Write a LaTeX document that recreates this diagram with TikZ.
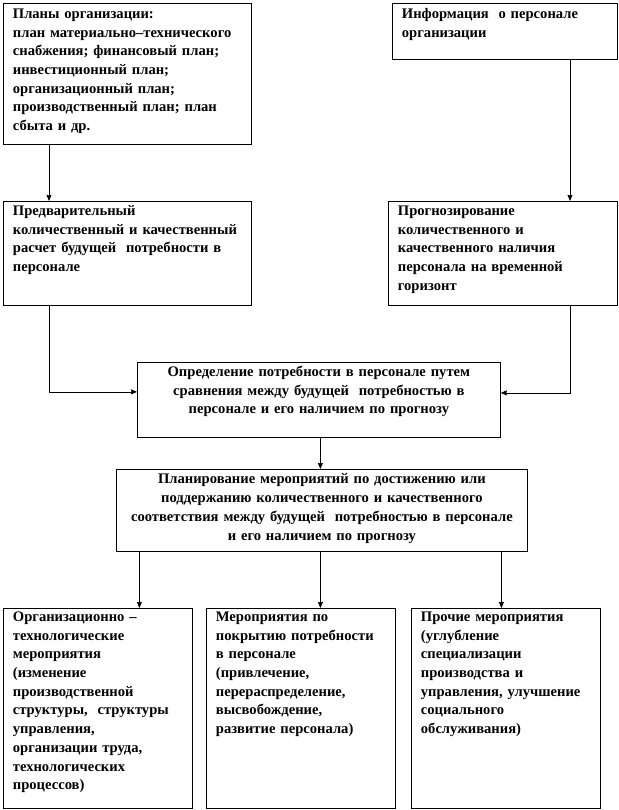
\documentclass[tikz,border=0pt]{standalone}
\usepackage{fontspec}
\setmainfont{Liberation Serif}
\usetikzlibrary{arrows.meta,positioning}

\begin{document}
\begin{tikzpicture}[x=1pt,y=-1pt,>={Stealth[length=6pt,width=5pt,inset=0.5pt]},
  font=\fontsize{14.6}{18.7}\selectfont\bfseries,
  box/.style={draw,line width=0.8pt,anchor=north west,align=left,
    inner xsep=9.5pt,inner ysep=4pt,text height=10pt},
  link/.style={->,line width=0.8pt}]
  \useasboundingbox (0,0) rectangle (618,810);

  \node[box,text width=229pt,text depth=121pt,inner ysep=5pt] (b1) at (3,3)
    {Планы организации:\\план материально–технического\\снабжения; финансовый план;\\инвестиционный план;\\организационный план;\\производственный план; план\\сбыта и др.};
  \node[box,text width=229pt,text depth=86pt] (b2) at (3,201)
    {Предварительный\\количественный и качественный\\расчет будущей\ \ потребности в\\персонале};
  \node[box,text width=206pt,text depth=36pt,inner ysep=5pt] (b3) at (392,3)
    {Информация\ \ о персонале\\организации};
  \node[box,text width=210pt,text depth=86pt] (b4) at (388,201)
    {Прогнозирование\\количественного и\\качественного наличия\\персонала на временной\\горизонт};
  \node[box,align=center,text width=344pt,text depth=57pt] (b5) at (137,362)
    {Определение потребности в персонале путем\\сравнения между будущей\ \ потребностью в\\персонале и его наличием по прогнозу};
  \node[box,align=center,text width=392pt,text depth=63pt,inner ysep=4.5pt] (b6) at (116,469)
    {Планирование мероприятий по достижению или\\поддержанию количественного и качественного\\соответствия между будущей\ \ потребностью в персонале\\и его наличием по прогнозу};
  \node[box,text width=170pt,text depth=184pt,inner ysep=3pt] (b7) at (3,608)
    {Организационно –\\технологические\\мероприятия\\(изменение\\производственной\\структуры,\ \ структуры\\управления,\\организации труда,\\технологических\\процессов)};
  \node[box,text width=170pt,text depth=184pt,inner ysep=3pt] (b8) at (206,608)
    {Мероприятия по\\покрытию потребности\\в персонале\\(привлечение,\\перераспределение,\\высвобождение,\\развитие персонала)};
  \node[box,text width=170pt,text depth=184pt,inner ysep=3pt] (b9) at (411,608)
    {Прочие мероприятия\\(углубление\\специализации\\производства и\\управления, улучшение\\социального\\обслуживания)};

  % upper arrows
  \draw[link] ([xshift=46pt]b1.south west) -- ([xshift=46pt]b1.south west |- b2.north);
  \draw[link] ([xshift=178pt]b3.south west) -- ([xshift=178pt]b3.south west |- b4.north);
  \draw[link] ([xshift=46pt]b2.south west) |- ([yshift=8pt]b5.west);
  \draw[link] ([xshift=182pt]b4.south west) |- ([yshift=7pt]b5.east);
  \draw[link] ([xshift=1.5pt]b5.south) -- ([xshift=1.5pt]b5.south |- b6.north);
  % lower arrows
  \draw[link] ([xshift=41.5pt]b7.north |- b6.south) -- ([xshift=41.5pt]b7.north);
  \draw[link] ([xshift=19.5pt]b8.north |- b6.south) -- ([xshift=19.5pt]b8.north);
  \draw[link] ([xshift=-4.5pt]b9.north |- b6.south) -- ([xshift=-4.5pt]b9.north);
\end{tikzpicture}
\end{document}
